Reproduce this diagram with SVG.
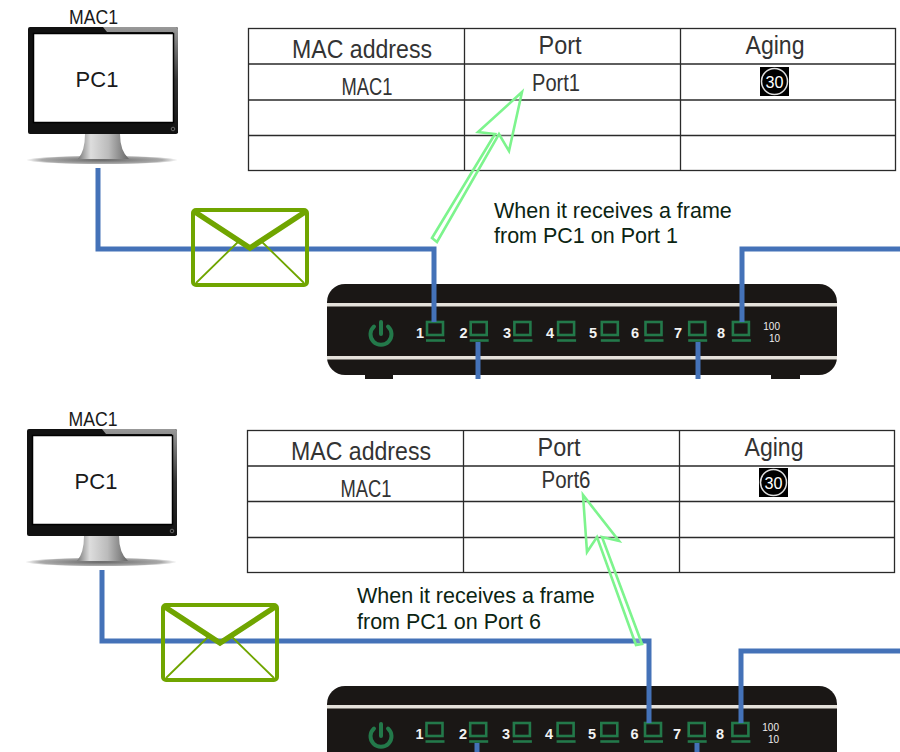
<svg xmlns="http://www.w3.org/2000/svg" width="900" height="752" viewBox="0 0 900 752">
<style>
text{font-family:"Liberation Sans",Arial,sans-serif;fill:#1a1a1a}
.grid{stroke:#2a2a2a;stroke-width:1.3;fill:none}
.th{font-size:26px;text-anchor:middle;fill:#333}
.td{font-size:23px;text-anchor:middle;fill:#333}
.lbl{font-size:21.500px;fill:#0b2412}
.pc{font-size:22px;text-anchor:middle}
.mac{font-size:21px;text-anchor:middle}
.wire{stroke:#4472b8;stroke-width:5;fill:none;stroke-linejoin:miter}
.arrow{fill:#fff;fill-opacity:.25;stroke:#7df48d;stroke-width:2.600;stroke-linejoin:miter}
.pn{font-size:14.500px;font-weight:bold;fill:#f2f2f2;text-anchor:middle}
.sp{font-size:10px;fill:#eee;text-anchor:end}
.tw{font-size:17px;fill:#fff;text-anchor:middle}
</style>
<defs>
<linearGradient id="stand" x1="0" x2="1" y1="0" y2="0"><stop offset="0" stop-color="#777"/><stop offset=".25" stop-color="#ddd"/><stop offset=".6" stop-color="#bbb"/><stop offset="1" stop-color="#666"/></linearGradient>
<radialGradient id="shadow"><stop offset="0" stop-color="#666"/><stop offset=".8" stop-color="#aaa"/><stop offset="1" stop-color="#fff"/></radialGradient>
<linearGradient id="gloss" x1="0" x2="0" y1="0" y2="1"><stop offset="0" stop-color="#999"/><stop offset=".5" stop-color="#333"/><stop offset="1" stop-color="#111"/></linearGradient>
<g id="monitor">
<ellipse cx="74" cy="133" rx="76" ry="4.500" fill="url(#shadow)"/>
<path d="M57 107H92Q92 124 101 132H50Q57 124 57 107Z" fill="url(#stand)"/>
<rect width="150" height="107" rx="2" fill="#111"/>
<path d="M75 0H148Q150 0 150 2V106H145V5H79Z" fill="url(#gloss)"/>
<rect x="5.500" y="6.500" width="140" height="89" fill="#fff" stroke="#000" stroke-width="1.500"/>
<circle cx="145" cy="102" r="1.800" fill="none" stroke="#666"/>
</g>
<g id="envelope" fill="none" stroke="#70a500">
<rect x="0" y="0" width="114" height="75" rx="3" stroke-width="4"/>
<path d="M2 2L57 38L112 2" stroke-width="5.500"/>
<path d="M3 73L46 31M111 73L68 31" stroke-width="1.800"/>
</g>
<g id="port" fill="none" stroke="#23794a" stroke-width="2.600">
<rect x="1" y="0" width="16" height="13"/>
<path d="M0 18.500H19" stroke-width="2.600"/>
</g>
<g id="chassis">
<rect x="38" y="88" width="28" height="7" fill="#1a1715"/>
<rect x="444" y="88" width="29" height="7" fill="#1a1715"/>
<rect width="510" height="91" rx="18" fill="#1a1715"/>
<rect y="19" width="510" height="3.500" fill="#e4e1da"/>
<rect y="72" width="510" height="3.500" fill="#e4e1da"/>
<g fill="none" stroke="#23794a" stroke-width="4" stroke-linecap="round">
<path d="M47 42.500A10.500 10.500 0 1 0 61 42.500"/>
<path d="M54 38V50"/>
</g>
</g>
</defs>

<rect width="900" height="752" fill="#fff"/>

<g id="pc1-top">
<use href="#monitor" x="28" y="27"/>
<text class="mac" x="93.500" y="24" textLength="49" lengthAdjust="spacingAndGlyphs">MAC1</text>
<text class="pc" x="97" y="87">PC1</text>
</g>

<g id="table-top">
<rect class="grid" x="248.500" y="28.500" width="647" height="142"/>
<path class="grid" d="M248 64H896M248 100H896M248 135.500H896M464.500 28V171M680.500 28V171"/>
<text class="th" x="362" y="58" textLength="140" lengthAdjust="spacingAndGlyphs">MAC address</text>
<text class="th" x="560" y="54" textLength="43" lengthAdjust="spacingAndGlyphs">Port</text>
<text class="th" x="775" y="54" textLength="59" lengthAdjust="spacingAndGlyphs">Aging</text>
<text class="td" x="367" y="95" textLength="51" lengthAdjust="spacingAndGlyphs">MAC1</text>
<text class="td" x="556" y="91" textLength="48" lengthAdjust="spacingAndGlyphs">Port1</text>
<rect x="760" y="67" width="29" height="29" fill="#000"/>
<circle cx="774.500" cy="81.500" r="13" fill="none" stroke="#ddd" stroke-width="1.500"/>
<text class="tw" x="774.500" y="87.500" textLength="18" lengthAdjust="spacingAndGlyphs">30</text>
</g>

<g id="switch-top">
<use href="#chassis" x="327" y="284"/>
<use href="#port" x="426" y="322"/><use href="#port" x="469.700" y="322"/><use href="#port" x="513.400" y="322"/><use href="#port" x="557.100" y="322"/><use href="#port" x="600.800" y="322"/><use href="#port" x="644.500" y="322"/><use href="#port" x="688.200" y="322"/><use href="#port" x="731.900" y="322"/>
<text class="pn" x="420" y="338">1</text><text class="pn" x="463.500" y="338">2</text><text class="pn" x="507" y="338">3</text><text class="pn" x="550" y="338">4</text><text class="pn" x="593" y="338">5</text><text class="pn" x="635" y="338">6</text><text class="pn" x="678" y="338">7</text><text class="pn" x="721" y="338">8</text>
<text class="sp" x="780" y="330">100</text><text class="sp" x="780" y="342">10</text>
</g>

<g id="pc1-bottom">
<use href="#monitor" x="27" y="429"/>
<text class="mac" x="93" y="426" textLength="49" lengthAdjust="spacingAndGlyphs">MAC1</text>
<text class="pc" x="96" y="489">PC1</text>
</g>

<g id="table-bottom">
<rect class="grid" x="247.500" y="430.500" width="647" height="142"/>
<path class="grid" d="M247 466H895M247 501.500H895M247 537.500H895M463.500 430V573M679.500 430V573"/>
<text class="th" x="361" y="460" textLength="140" lengthAdjust="spacingAndGlyphs">MAC address</text>
<text class="th" x="559" y="456" textLength="43" lengthAdjust="spacingAndGlyphs">Port</text>
<text class="th" x="774" y="456" textLength="59" lengthAdjust="spacingAndGlyphs">Aging</text>
<text class="td" x="366" y="497" textLength="51" lengthAdjust="spacingAndGlyphs">MAC1</text>
<text class="td" x="566" y="488" textLength="49" lengthAdjust="spacingAndGlyphs">Port6</text>
<rect x="759" y="468" width="29" height="29" fill="#000"/>
<circle cx="773.500" cy="482.500" r="13" fill="none" stroke="#ddd" stroke-width="1.500"/>
<text class="tw" x="773.500" y="488.500" textLength="18" lengthAdjust="spacingAndGlyphs">30</text>
</g>

<g id="switch-bottom">
<use href="#chassis" x="327" y="686"/>
<use href="#port" x="425.500" y="723"/><use href="#port" x="469.200" y="723"/><use href="#port" x="512.900" y="723"/><use href="#port" x="556.600" y="723"/><use href="#port" x="600.300" y="723"/><use href="#port" x="644" y="723"/><use href="#port" x="687.700" y="723"/><use href="#port" x="731.400" y="723"/>
<text class="pn" x="419.500" y="739">1</text><text class="pn" x="463" y="739">2</text><text class="pn" x="506" y="739">3</text><text class="pn" x="549" y="739">4</text><text class="pn" x="592" y="739">5</text><text class="pn" x="634.500" y="739">6</text><text class="pn" x="677" y="739">7</text><text class="pn" x="720" y="739">8</text>
<text class="sp" x="779" y="731">100</text><text class="sp" x="779" y="743">10</text>
</g>

<g id="connectors">
<path class="wire" d="M98 168V249H434V322"/>
<path class="wire" d="M742 322V249H900"/>
<path class="wire" d="M478 342V379"/>
<path class="wire" d="M698 342V379"/>
<path class="wire" d="M102 570V641H649V723"/>
<path class="wire" d="M741 723V651H900"/>
<path class="wire" d="M477 743V752"/>
<path class="wire" d="M697 743V752"/>
</g>

<g id="envelope-top"><use href="#envelope" x="193" y="210"/></g>
<g id="envelope-bottom"><use href="#envelope" x="163" y="605"/></g>

<g id="callout-top">
<polygon class="arrow" points="432,238 495,134 478,132 522,92 509,151 499,134 437,242"/>
<text class="lbl" x="494" y="218">When it receives a frame</text>
<text class="lbl" x="494" y="243">from PC1 on Port 1</text>
</g>

<g id="callout-bottom">
<polygon class="arrow" points="636,645 597,537 587,552 583,495 619,541 602,537 642,644"/>
<text class="lbl" x="357" y="603">When it receives a frame</text>
<text class="lbl" x="357" y="629">from PC1 on Port 6</text>
</g>
</svg>
